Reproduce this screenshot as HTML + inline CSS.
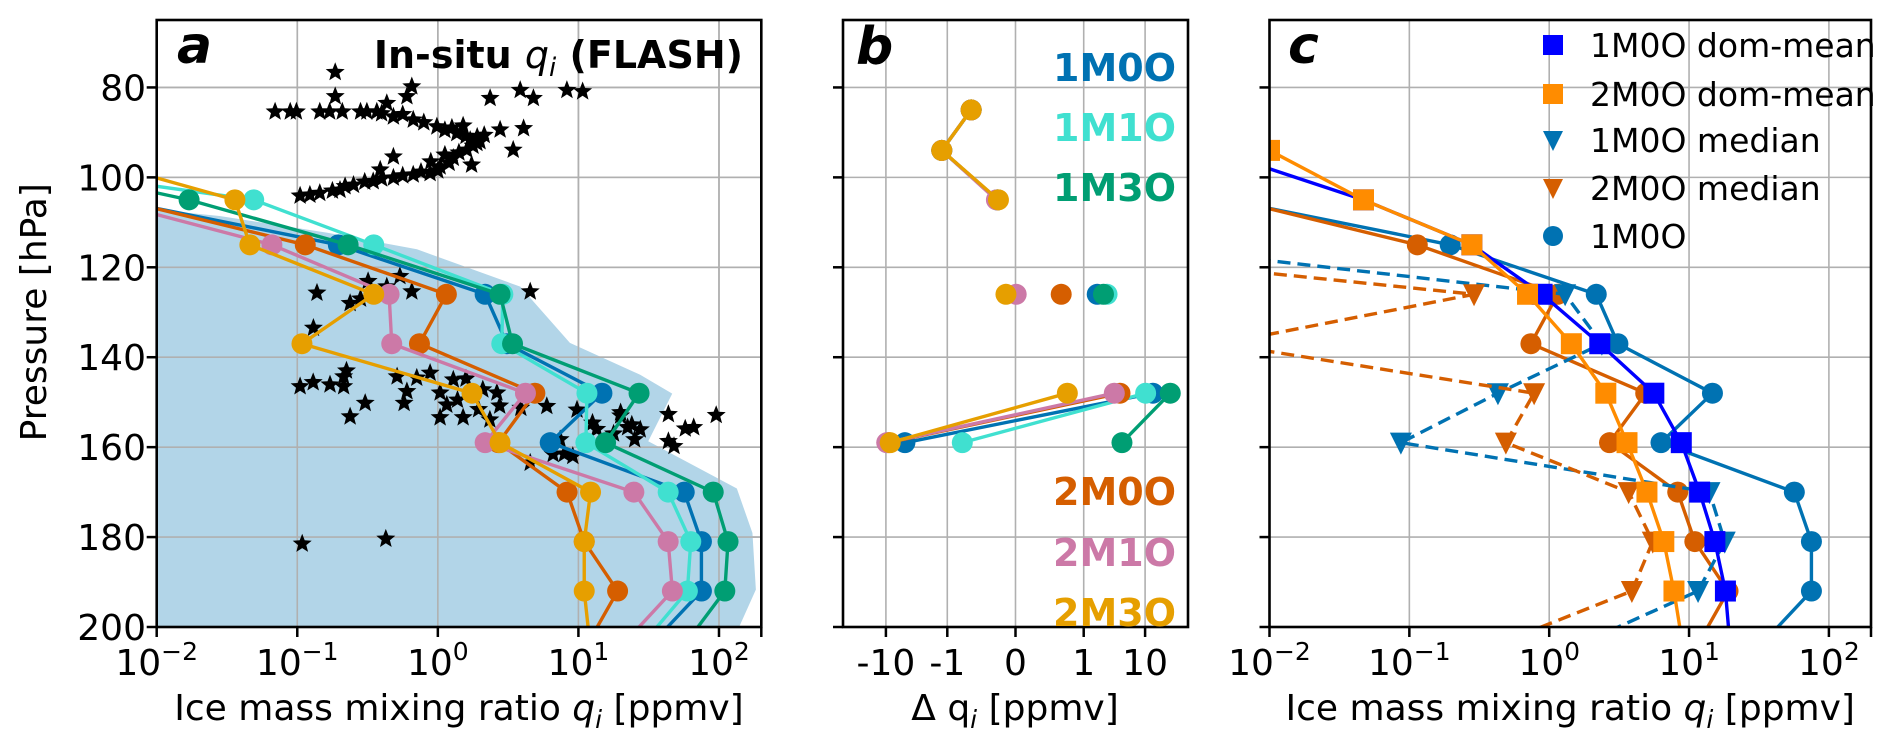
<!DOCTYPE html>
<html><head><meta charset="utf-8"><style>
html,body{margin:0;padding:0;background:#fff}
svg{display:block;font-family:"DejaVu Sans","Liberation Sans",sans-serif}
</style></head><body>
<svg id="fig" width="1892" height="749" viewBox="0 0 1892 749" xmlns="http://www.w3.org/2000/svg">
<defs>
<clipPath id="clipA"><rect x="156.7" y="20" width="604.6" height="607"/></clipPath>
<clipPath id="clipB"><rect x="843" y="20" width="345" height="607"/></clipPath>
<clipPath id="clipC"><rect x="1269.5" y="20" width="601.5" height="607"/></clipPath>
</defs>
<g id="gA"></g>
<g id="gB"></g>
<g id="gC"></g>
</svg>
<script>
// ---------- data ----------
const levels = [94,105,115,126,137,148,159,170,181,192,203];
const a1M0O = [0.0001,0.005,0.196,2.17,3.1,14.7,6.3,56.6,75,75,35];
const a1M1O = [0.00015,0.049,0.35,2.9,2.85,11.5,11.3,43.5,63,59.6,30];
const a1M3O = [0.0004,0.017,0.23,2.77,3.4,27,15.6,91,116,110,60];
const a2M0O = [0.0001,0.0055,0.114,1.15,0.74,4.9,2.7,8.3,11,19,12];
const a2M1O = [0.0001,0.004,0.066,0.45,0.47,4.2,2.17,24.8,43.5,46.6,22];
const a2M3O = [0.002,0.036,0.046,0.35,0.108,1.75,2.77,12.2,11,11,12];
const shadeQ = [0.01,0.028,0.162,0.71,3.86,8.7,27.5,46.5,31.4,134,173,183,140,0.01];
const shadeP = [107.2,108.6,112.3,116,124.3,136.8,143.9,148.1,158.7,169.2,179.1,191.7,199.8,199.8];
const starLogQ = [-0.73,-0.73,-0.185,0.372,0.586,0.68,0.918,1.03,
 -1.158,-1.05,-1.006,-0.84,-0.77,-0.68,-0.55,-0.505,-0.434,
 -0.363,-0.22,-0.316,-0.175,-0.007,0.135,0.23,0.278,0.206,0.11,0.016,-0.055,-0.175,-0.316,-0.46,-0.6,-0.696,-0.84,-0.91,-0.98,0.443,0.61,0.536,0.24,-0.316,-0.41,
 -0.1,0.05,0.1,0.2,0.28,0.3,0.25,0.15,0.05,-0.05,0.08,0.0,-0.12,-0.25,-0.4,-0.52,-0.66,-0.75,0.18,0.33,-0.25,-0.4,
 -0.496,-0.27,-0.363,-0.185,-0.86,-0.624,-0.55,-0.885,0.657,-0.98,-0.887,-0.767,-0.67,-0.65,-0.67,-0.517,-0.624,-0.29,-0.15,-0.055,-0.22,-0.24,0.016,0.064,0.016,0.18,0.11,0.2,0.14,0.32,0.42,0.44,0.29,0.37,0.775,0.59,0.99,0.87,0.657,0.82,0.9,0.96,1.1,1.3,1.13,1.38,1.25,1.3,1.35,1.44,1.40,1.64,1.76,1.82,1.64,1.68,1.98,-0.965,-0.37];
const starP = [76.6,82,79.8,82.4,80.6,82.4,80.6,80.9,
 85.4,85.4,85.4,85.4,85.4,85.4,85.4,85.4,85.4,
 83.5,82,86.5,87.2,88.7,90.2,91.7,92.4,93.9,95.7,97.6,99.1,99.4,100.1,100.9,101.7,102.8,103.5,103.9,104.1,89.4,89.1,93.9,97.2,95.4,98.3,
 87.8,89.5,89,90.8,91,92,93,94.5,95,96.5,96.8,98.5,98.8,99.6,100.3,101,102,103,88.5,90.6,86,85.8,
 123.1,122,124.3,125.4,125.7,128,127,133.5,125.4,146.5,145.6,146.1,144.3,143,146.5,150.2,153.2,144.3,144.6,143.5,147.6,150.2,147.9,150.6,153.4,153.4,145,144.8,149.5,147.2,147.9,150.8,151.6,153.9,150.9,151.3,151.7,158.3,163.5,161.6,161.5,162,154.6,152.3,156,155,157,153,155.6,156.1,158.3,152.7,155.9,155.6,158.7,159.8,152.9,181.5,180.4];
const bLevels = [85,94,105,115,126,137,148,159,170];
const b1M0O = [-0.65,-1.23,-0.26,null,1.66,null,13.4,-4.9,null];
const b1M1O = [-0.65,-1.23,-0.27,null,2.4,null,10.2,-0.78,null];
const b1M3O = [-0.65,-1.23,-0.27,null,2.1,null,25.7,4.2,null];
const b2M0O = [-0.65,-1.23,-0.26,null,0.67,null,3.9,-9.1,null];
const b2M1O = [-0.65,-1.23,-0.28,null,0.01,null,3.15,-9.7,null];
const b2M3O = [-0.65,-1.23,-0.25,null,-0.14,null,0.76,-8.5,null];
const c1M0Omean = [0.004,0.047,0.28,0.89,2.3,5.6,8.8,11.9,15.3,18.2,19.5];
const c2M0Omean = [0.01,0.047,0.28,0.7,1.44,2.54,3.6,5.0,6.6,7.8,8.9];
const c1M0Omed = [0.0001,0.0005,0.001,1.3,2.38,0.43,0.087,14,18,11.6,1.9];
const c2M0Omed = [0.0001,0.0001,0.0001,0.29,0.0045,0.78,0.49,3.7,5.5,3.9,0.5];
const yTicks = [80,100,120,140,160,180,200];
const logTicks = [-2,-1,0,1,2];
const bTicks = [-10,-1,0,1,10];
const bTickLabels = ["-10","-1","0","1","10"];

// ---------- scales ----------
const Y0=20, Y1=627, PMIN=65, PMAX=200;
function yP(p){return Y0+(p-PMIN)/(PMAX-PMIN)*(Y1-Y0);}
const LMAX=Math.log10(200);
function mkLog(x0,x1){return v=>x0+(Math.log10(v)+2)/(LMAX+2)*(x1-x0);}
const xA=mkLog(156.7,761.3), xC=mkLog(1269.5,1871);
const LS=1/(1-0.1), TMAX=LS+Math.log10(50);
function symT(v){const a=Math.abs(v);const t=a<=1?a*LS:LS+Math.log10(a);return v<0?-t:t;}
function xB(v){return 843+(symT(v)+TMAX)/(2*TMAX)*345;}
const NS="http://www.w3.org/2000/svg";
function el(tag,attrs,parent){const e=document.createElementNS(NS,tag);for(const k in attrs)e.setAttribute(k,attrs[k]);parent.appendChild(e);return e;}

function frame(g,x0,x1,name){
  const ax=el('g',{},g);
  
  
  return ax;
}
function hgrid(g,x0,x1){
  yTicks.forEach(p=>{const y=yP(p);
    const l=el('line',{x1:x0,x2:x1,y1:y,y2:y,stroke:'#b0b0b0','stroke-width':1.6},g);
    
    
    const t=el('line',{x1:x0-10,x2:x0,y1:y,y2:y,stroke:'#000','stroke-width':2.5},g);
    
    
  });
}
function border(g,x0,x1){
  const r=el('rect',{x:x0,y:Y0,width:x1-x0,height:Y1-Y0,fill:'none',stroke:'#000','stroke-width':2.6},g);
  
  
}
function logAxis(g,xf,x0,x1){
  logTicks.forEach(k=>{const x=xf(Math.pow(10,k));
    if(k>-2){const l=el('line',{x1:x,x2:x,y1:Y0,y2:Y1,stroke:'#b0b0b0','stroke-width':1.6},g);
      
      }
    const t=el('line',{x1:x,x2:x,y1:Y1,y2:Y1+10,stroke:'#000','stroke-width':2.5},g);
    
    
    const tx=el('text',{x:x,y:675,'font-size':36,'text-anchor':'middle',fill:'#000'},g);
    
    
    const a=document.createElementNS(NS,'tspan');a.textContent='10';tx.appendChild(a);
    const b=document.createElementNS(NS,'tspan');b.setAttribute('font-size','25');b.setAttribute('dy','-15');b.textContent=(k<0?'\u2212':'')+Math.abs(k);tx.appendChild(b);
  });
  const mx=xf(200);
  const t=el('line',{x1:mx,x2:mx,y1:Y1,y2:Y1+10,stroke:'#000','stroke-width':2.5},g);
  
  
  const lab=el('text',{x:(x0+x1)/2,y:720,'font-size':36,'text-anchor':'middle',fill:'#000'},g);
  
  
  lab.innerHTML='Ice mass mixing ratio <tspan font-style="italic">q</tspan><tspan font-style="italic" font-size="25" dy="8">i</tspan><tspan dy="-8"> [ppmv]</tspan>';
}
function series(g,xf,lv,vals,color,name,opts){
  opts=opts||{};
  const s=el('g',{},g);
  
  
  let seg=[];const segs=[];
  lv.forEach((p,i)=>{const v=vals[i];if(v===null){if(seg.length)segs.push(seg);seg=[];}else seg.push([xf(v),yP(p)]);});
  if(seg.length)segs.push(seg);
  segs.forEach(sg=>{const pl=el('polyline',{points:sg.map(q=>q.join(',')).join(' '),fill:'none',stroke:color,'stroke-width':3.4,'stroke-linejoin':'round'},s);
    if(opts.dash)pl.setAttribute('stroke-dasharray','13,7');
    
    });
  lv.forEach((p,i)=>{const v=vals[i];if(v===null)return;const x=xf(v),y=yP(p);let m;
    if(opts.marker==='square'){m=el('rect',{x:x-10.5,y:y-10.5,width:21,height:21,fill:color},s);}
    else if(opts.marker==='tri'){m=el('polygon',{points:`${x-11},${y-10} ${x+11},${y-10} ${x},${y+12}`,fill:color},s);}
    else {m=el('circle',{cx:x,cy:y,r:10.5,fill:color},s);}
    
    });
}
function txt(g,x,y,s,attrs,name){const t=el('text',Object.assign({x:x,y:y,fill:'#000'},attrs),g);t.textContent=s;
  
  return t;}

const C={m10:'#0072B2',m11:'#40E0D0',m13:'#009E73',m20:'#D55E00',m21:'#CC79A7',m23:'#E69F00'};

// ---------- panel a ----------
const gA=document.getElementById('gA');
frame(gA,156.7,761.3,'panel-a');
const pa=el('g',{'clip-path':'url(#clipA)'},gA);


const sh=el('polygon',{points:shadeQ.map((q,i)=>xA(q)+','+yP(shadeP[i])).join(' ')+' '+xA(0.01)+','+yP(201),fill:'#B2D5E8'},pa);


hgrid(gA,156.7,761.3);
logAxis(gA,xA,156.7,761.3);
gA.appendChild(pa);
logTicks.forEach(k=>{if(k>-2){const x=xA(Math.pow(10,k));const l=el('line',{x1:x,x2:x,y1:Y0,y2:Y1,stroke:'#b0b0b0','stroke-width':1.6},pa);
  
  }});
yTicks.forEach(p=>{const y=yP(p);const l=el('line',{x1:156.7,x2:761.3,y1:y,y2:y,stroke:'#b0b0b0','stroke-width':1.6},pa);
  
  });
const stars=el('g',{},pa);


starLogQ.forEach((lq,i)=>{const x=xA(Math.pow(10,lq)),y=yP(starP[i]);const pts=[];
  for(let k=0;k<10;k++){const r=k%2?4.3:10;const a=-Math.PI/2+k*Math.PI/5;pts.push((x+r*Math.cos(a)).toFixed(1)+','+(y+r*Math.sin(a)).toFixed(1));}
  const s=el('polygon',{points:pts.join(' '),fill:'#000'},stars);
  
  });
series(pa,xA,levels,a1M0O,C.m10,'series-1M0O');
series(pa,xA,levels,a1M1O,C.m11,'series-1M1O');
series(pa,xA,levels,a1M3O,C.m13,'series-1M3O');
series(pa,xA,levels,a2M0O,C.m20,'series-2M0O');
series(pa,xA,levels,a2M1O,C.m21,'series-2M1O');
series(pa,xA,levels,a2M3O,C.m23,'series-2M3O');
border(gA,156.7,761.3);
yTicks.forEach(p=>txt(gA,146,yP(p)+13,String(p),{'font-size':36,'text-anchor':'end'},'y-tick-label'));
txt(gA,0,0,'Pressure [hPa]',{'font-size':36,'text-anchor':'middle',transform:'translate(46,'+yP(130)+') rotate(-90)'},'y-axis-title');
txt(gA,177,63,'a',{'font-size':52,'font-weight':'bold','font-style':'italic'},'panel-label-a');
const ttl=el('text',{x:743,y:68,'font-size':38,'font-weight':'bold','text-anchor':'end',fill:'#000'},gA);


ttl.innerHTML='In-situ <tspan font-weight="normal" font-style="italic">q</tspan><tspan font-weight="normal" font-style="italic" font-size="26" dy="8">i</tspan><tspan dy="-8"> (FLASH)</tspan>';

// ---------- panel b ----------
const gB=document.getElementById('gB');
frame(gB,843,1188,'panel-b');
hgrid(gB,843,1188);
bTicks.forEach((v,i)=>{const x=xB(v);
  const l=el('line',{x1:x,x2:x,y1:Y0,y2:Y1,stroke:'#b0b0b0','stroke-width':1.6},gB);
  
  
  const t=el('line',{x1:x,x2:x,y1:Y1,y2:Y1+10,stroke:'#000','stroke-width':2.5},gB);
  
  
  txt(gB,x,675,bTickLabels[i],{'font-size':36,'text-anchor':'middle'},'x-tick-label');});
const pb=el('g',{'clip-path':'url(#clipB)'},gB);


series(pb,xB,bLevels,b1M0O,C.m10,'diff-1M0O');
series(pb,xB,bLevels,b1M1O,C.m11,'diff-1M1O');
series(pb,xB,bLevels,b1M3O,C.m13,'diff-1M3O');
series(pb,xB,bLevels,b2M0O,C.m20,'diff-2M0O');
series(pb,xB,bLevels,b2M1O,C.m21,'diff-2M1O');
series(pb,xB,bLevels,b2M3O,C.m23,'diff-2M3O');
border(gB,843,1188);
const bl=el('text',{x:1015,y:720,'font-size':36,'text-anchor':'middle',fill:'#000'},gB);


bl.innerHTML='\u0394 q<tspan font-style="italic" font-size="25" dy="8">i</tspan><tspan dy="-8"> [ppmv]</tspan>';
txt(gB,856,64,'b',{'font-size':52,'font-weight':'bold','font-style':'italic'},'panel-label-b');
[['1M0O',C.m10,81],['1M1O',C.m11,141],['1M3O',C.m13,201],['2M0O',C.m20,505],['2M1O',C.m21,566],['2M3O',C.m23,626]].forEach(a=>
  txt(gB,1176,a[2],a[0],{'font-size':38,'font-weight':'bold','text-anchor':'end',fill:a[1]},'label-'+a[0]));

// ---------- panel c ----------
const gC=document.getElementById('gC');
frame(gC,1269.5,1871,'panel-c');
hgrid(gC,1269.5,1871);
logAxis(gC,xC,1269.5,1871);
const pc=el('g',{'clip-path':'url(#clipC)'},gC);


series(pc,xC,levels,a1M0O,C.m10,'c-1M0O');
series(pc,xC,levels,a2M0O,C.m20,'c-2M0O');
series(pc,xC,levels,c1M0Omed,C.m10,'c-1M0O-median',{dash:true,marker:'tri'});
series(pc,xC,levels,c2M0Omed,C.m20,'c-2M0O-median',{dash:true,marker:'tri'});
series(pc,xC,levels,c1M0Omean,'#0000FF','c-1M0O-dom-mean',{marker:'square'});
series(pc,xC,levels,c2M0Omean,'#FF8C00','c-2M0O-dom-mean',{marker:'square'});
border(gC,1269.5,1871);
txt(gC,1288,63,'c',{'font-size':52,'font-weight':'bold','font-style':'italic'},'panel-label-c');
const lg=el('g',{},gC);


[['1M0O dom-mean','#0000FF','square',45],['2M0O dom-mean','#FF8C00','square',94],['1M0O median',C.m10,'tri',140],['2M0O median',C.m20,'tri',188],['1M0O',C.m10,'circle',236]].forEach(a=>{
  const x=1553,y=a[3];let m;
  if(a[2]==='square')m=el('rect',{x:x-10,y:y-10,width:20,height:20,fill:a[1]},lg);
  else if(a[2]==='tri')m=el('polygon',{points:`${x-10},${y-9} ${x+10},${y-9} ${x},${y+11}`,fill:a[1]},lg);
  else m=el('circle',{cx:x,cy:y,r:10,fill:a[1]},lg);
  
  
  txt(lg,1590,y+12,a[0],{'font-size':33},'legend-entry');
});
</script>
</body></html>
